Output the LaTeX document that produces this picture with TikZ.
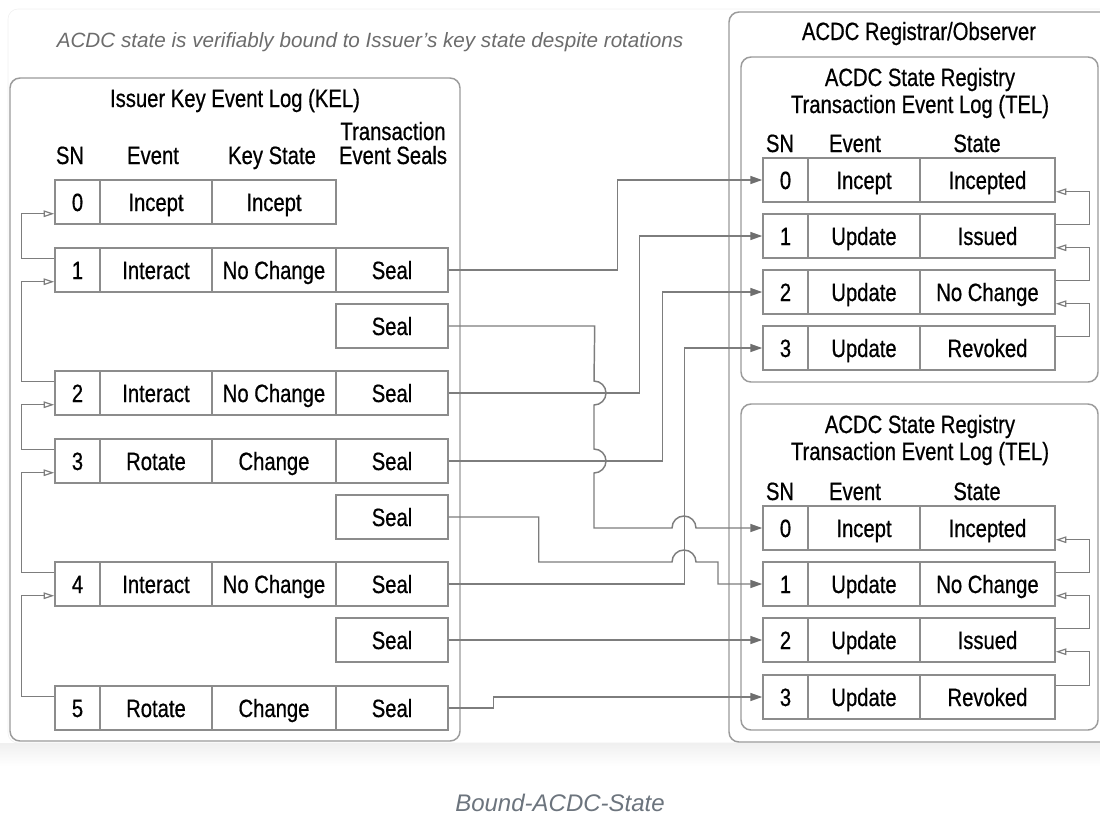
\documentclass[tikz,border=0pt]{standalone}
\usepackage{fontspec}
\setmainfont{Liberation Sans}
\newfontfamily\condfont{Liberation Sans}[FakeStretch=0.81,FakeBold=0.6]
\usetikzlibrary{arrows.meta}

\definecolor{cellline}{RGB}{140,140,140}
\definecolor{boxline}{RGB}{155,155,155}
\definecolor{connline}{RGB}{125,125,125}
\definecolor{tipfill}{RGB}{110,110,110}
\definecolor{capgray}{RGB}{108,108,108}
\definecolor{capblue}{RGB}{108,116,125}

\begin{document}
\begin{tikzpicture}[x=0.75pt,y=0.75pt,yscale=-1,xscale=1,
  cell/.style={draw=cellline,line width=1.1pt,inner sep=0pt,minimum height=33pt,text height=13.5pt,text depth=0pt,font=\condfont\fontsize{18.75}{21}\selectfont},
  sncell/.style={cell,minimum width=33.75pt},
  evcell/.style={cell,minimum width=84pt},
  kscell/.style={cell,minimum width=93pt},
  slcell/.style={cell,minimum width=84pt},
  stcell/.style={cell,minimum width=101.25pt},
  lbl/.style={inner sep=0pt,text height=13.5pt,text depth=0pt,font=\condfont\fontsize{18.75}{21}\selectfont},
  conn/.style={draw=connline,line width=1.1pt,-{Triangle[length=9pt,width=6pt,color=tipfill,fill=tipfill]}},
  back/.style={draw=connline,line width=0.9pt,-{Triangle[open,length=8pt,width=5pt]}},
  box/.style={draw=boxline,line width=1.1pt,rounded corners=7.5pt}
]
\useasboundingbox (0,0) rectangle (1100,818);

%Card
\shade[top color=gray!12,bottom color=white] (0,743) rectangle (1100,766);
\draw[gray!12,fill=white,rounded corners=7.5pt] (8,9) rectangle (1120,743);

%Captions
\node[inner sep=0pt,text=capgray,font=\itshape\fontsize{15.5}{18}\selectfont] (topcap) at (370,42) {ACDC state is verifiably bound to Issuer’s key state despite rotations};
\node[inner sep=0pt,text=capblue,font=\itshape\fontsize{18}{20}\selectfont] (botcap) at (560,803) {Bound-ACDC-State};

%Shape: KEL box
\draw[box] (10,78) rectangle (460,741);
%Shape: Registrar box
\draw[box] (729,12) rectangle (1115,742);
%Shape: TEL boxes
\draw[box] (741,57) rectangle (1098,382);
\draw[box] (741,404) rectangle (1098,730);

%Titles
\node[lbl] (keltitle) at (235,98) {Issuer Key Event Log (KEL)};
\node[lbl] (regtitle) at (919,31) {ACDC Registrar/Observer};
\node[lbl] (atitle1) at (920,77) {ACDC State Registry};
\node[lbl] (atitle2) at (920,104) {Transaction Event Log (TEL)};
\node[lbl] (btitle1) at (920,424) {ACDC State Registry};
\node[lbl] (btitle2) at (920,451) {Transaction Event Log (TEL)};

%KEL headers
\node[lbl] (hsn) at (70,155) {SN};
\node[lbl] (hev) at (153,155) {Event};
\node[lbl] (hks) at (272,155) {Key State};
\node[lbl] (hts1) at (393,131) {Transaction};
\node[lbl] (hts2) at (393,155) {Event Seals};

%TEL headers
\node[lbl] (ahsn) at (780,143) {SN};
\node[lbl] (ahev) at (855,143) {Event};
\node[lbl] (ahst) at (977,143) {State};
\node[lbl] (bhsn) at (780,491) {SN};
\node[lbl] (bhev) at (855,491) {Event};
\node[lbl] (bhst) at (977,491) {State};

%KEL rows
\node[sncell] (sn0) at (77.5,202) {0};
\node[evcell] (ev0) at (156,202) {Incept};
\node[kscell] (ks0) at (274,202) {Incept};

\node[sncell] (sn1) at (77.5,270) {1};
\node[evcell] (ev1) at (156,270) {Interact};
\node[kscell] (ks1) at (274,270) {No Change};
\node[slcell] (sl1) at (392,270) {Seal};

\node[slcell] (slx1) at (392,326) {Seal};

\node[sncell] (sn2) at (77.5,393) {2};
\node[evcell] (ev2) at (156,393) {Interact};
\node[kscell] (ks2) at (274,393) {No Change};
\node[slcell] (sl2) at (392,393) {Seal};

\node[sncell] (sn3) at (77.5,461) {3};
\node[evcell] (ev3) at (156,461) {Rotate};
\node[kscell] (ks3) at (274,461) {Change};
\node[slcell] (sl3) at (392,461) {Seal};

\node[slcell] (slx2) at (392,517) {Seal};

\node[sncell] (sn4) at (77.5,584) {4};
\node[evcell] (ev4) at (156,584) {Interact};
\node[kscell] (ks4) at (274,584) {No Change};
\node[slcell] (sl4) at (392,584) {Seal};

\node[slcell] (slx3) at (392,640) {Seal};

\node[sncell] (sn5) at (77.5,708) {5};
\node[evcell] (ev5) at (156,708) {Rotate};
\node[kscell] (ks5) at (274,708) {Change};
\node[slcell] (sl5) at (392,708) {Seal};

%TEL a rows
\node[sncell] (asn0) at (785.5,180) {0};
\node[evcell] (aev0) at (864,180) {Incept};
\node[stcell] (ast0) at (987.5,180) {Incepted};
\node[sncell] (asn1) at (785.5,236) {1};
\node[evcell] (aev1) at (864,236) {Update};
\node[stcell] (ast1) at (987.5,236) {Issued};
\node[sncell] (asn2) at (785.5,292) {2};
\node[evcell] (aev2) at (864,292) {Update};
\node[stcell] (ast2) at (987.5,292) {No Change};
\node[sncell] (asn3) at (785.5,348) {3};
\node[evcell] (aev3) at (864,348) {Update};
\node[stcell] (ast3) at (987.5,348) {Revoked};

%TEL b rows
\node[sncell] (bsn0) at (785.5,528) {0};
\node[evcell] (bev0) at (864,528) {Incept};
\node[stcell] (bst0) at (987.5,528) {Incepted};
\node[sncell] (bsn1) at (785.5,584) {1};
\node[evcell] (bev1) at (864,584) {Update};
\node[stcell] (bst1) at (987.5,584) {No Change};
\node[sncell] (bsn2) at (785.5,640) {2};
\node[evcell] (bev2) at (864,640) {Update};
\node[stcell] (bst2) at (987.5,640) {Issued};
\node[sncell] (bsn3) at (785.5,697) {3};
\node[evcell] (bev3) at (864,697) {Update};
\node[stcell] (bst3) at (987.5,697) {Revoked};

%KEL back links
\draw[back] ([yshift=8.25pt]sn1.north west) -- ++(-33,0) |- ([yshift=-8.25pt]sn0.south west);
\draw[back] ([yshift=8.25pt]sn2.north west) -- ++(-33,0) |- ([yshift=-8.25pt]sn1.south west);
\draw[back] ([yshift=8.25pt]sn3.north west) -- ++(-33,0) |- ([yshift=-8.25pt]sn2.south west);
\draw[back] ([yshift=8.25pt]sn4.north west) -- ++(-33,0) |- ([yshift=-8.25pt]sn3.south west);
\draw[back] ([yshift=8.25pt]sn5.north west) -- ++(-33,0) |- ([yshift=-8.25pt]sn4.south west);

%TEL back links
\draw[back] ([yshift=8.25pt]ast1.north east) -- ++(34,0) |- ([yshift=-8.25pt]ast0.south east);
\draw[back] ([yshift=8.25pt]ast2.north east) -- ++(34,0) |- ([yshift=-8.25pt]ast1.south east);
\draw[back] ([yshift=8.25pt]ast3.north east) -- ++(34,0) |- ([yshift=-8.25pt]ast2.south east);
\draw[back] ([yshift=8.25pt]bst1.north east) -- ++(34,0) |- ([yshift=-8.25pt]bst0.south east);
\draw[back] ([yshift=8.25pt]bst2.north east) -- ++(34,0) |- ([yshift=-8.25pt]bst1.south east);
\draw[back] ([yshift=8.25pt]bst3.north east) -- ++(34,0) |- ([yshift=-8.25pt]bst2.south east);

%Seal links
\draw[conn] (sl1.east) -- ++(169,0) |- (asn0.west);
\draw[conn] (sl2.east) -- ++(191,0) |- (asn1.west);
\draw[conn] (sl3.east) -- ++(214,0) |- (asn2.west);
\draw[conn] (sl4.east) -- ++(236,0) |- (asn3.west);
\draw[conn] (slx1.east) -- ++(146,0) -- (594,381) arc[start angle=-90,end angle=90,radius=12] -- (594,449) arc[start angle=-90,end angle=90,radius=12] -- (594,528) -- (672,528) arc[start angle=180,end angle=360,radius=12] -- (bsn0.west);
\draw[conn] (slx2.east) -- ++(90,0) |- (672,562) arc[start angle=180,end angle=360,radius=12] -- (718,562) |- (bsn1.west);
\draw[conn] (slx3.east) -- (bsn2.west);
\draw[conn] (sl5.east) -- ++(45,0) |- (bsn3.west);

\end{tikzpicture}
\end{document}
